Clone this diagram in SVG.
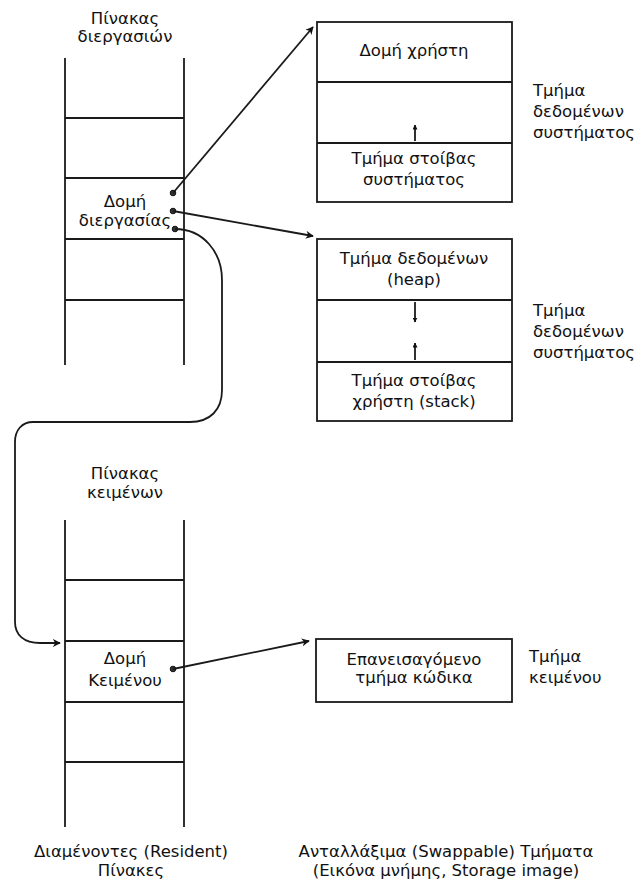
<svg xmlns="http://www.w3.org/2000/svg" width="644" height="891" viewBox="0 0 644 891">
<style>
.ln{stroke:#1a1a1a;stroke-width:1.8;fill:none}
.bx{stroke:#1a1a1a;stroke-width:1.8;fill:#fff}
.t{font-family:"DejaVu Sans",Verdana,sans-serif;font-size:16.5px;fill:#111;text-anchor:middle}
.l{font-family:"DejaVu Sans",Verdana,sans-serif;font-size:16.5px;fill:#111;text-anchor:start}
.dot{fill:#333;stroke:#111;stroke-width:1}
</style>
<defs>
<marker id="ah" viewBox="0 0 10 10" refX="9" refY="5" markerWidth="8" markerHeight="8" orient="auto-start-reverse" markerUnits="userSpaceOnUse">
<path d="M0,0 L10,5 L0,10 L3,5 z" fill="#111"/>
</marker>
<marker id="sa" viewBox="0 0 10 10" refX="9" refY="5" markerWidth="5" markerHeight="5" orient="auto" markerUnits="userSpaceOnUse">
<path d="M0,0 L10,5 L0,10 z" fill="#111"/>
</marker>
</defs>
<rect width="644" height="891" fill="#fff"/>

<g id="process-table">
<text class="t" x="125" y="24">Πίνακας</text>
<text class="t" x="125" y="42">διεργασιών</text>
<line class="ln" x1="65" y1="58" x2="65" y2="365"/>
<line class="ln" x1="184" y1="58" x2="184" y2="365"/>
<line class="ln" x1="65" y1="118" x2="184" y2="118"/>
<line class="ln" x1="65" y1="178" x2="184" y2="178"/>
<line class="ln" x1="65" y1="239" x2="184" y2="239"/>
<line class="ln" x1="65" y1="300" x2="184" y2="300"/>
<text class="t" x="125" y="207">Δομή</text>
<text class="t" x="125" y="226">διεργασίας</text>
<circle class="dot" cx="173" cy="193" r="2.8"/>
<circle class="dot" cx="173" cy="211" r="2.8"/>
<circle class="dot" cx="175" cy="229" r="2.8"/>
</g>

<g id="text-table">
<text class="t" x="125" y="479">Πίνακας</text>
<text class="t" x="125" y="498">κειμένων</text>
<line class="ln" x1="65" y1="520" x2="65" y2="827"/>
<line class="ln" x1="184" y1="520" x2="184" y2="827"/>
<line class="ln" x1="65" y1="580" x2="184" y2="580"/>
<line class="ln" x1="65" y1="641" x2="184" y2="641"/>
<line class="ln" x1="65" y1="702" x2="184" y2="702"/>
<line class="ln" x1="65" y1="762" x2="184" y2="762"/>
<text class="t" x="125" y="664">Δομή</text>
<text class="t" x="125" y="686">Κειμένου</text>
<circle class="dot" cx="173" cy="669" r="2.8"/>
</g>

<g id="system-data-segment">
<rect class="bx" x="317" y="22" width="195" height="180"/>
<line class="ln" x1="317" y1="82" x2="512" y2="82"/>
<line class="ln" x1="317" y1="143" x2="512" y2="143"/>
<text class="t" x="414" y="56">Δομή χρήστη</text>
<line class="ln" x1="415" y1="141" x2="415" y2="125" marker-end="url(#sa)"/>
<text class="t" x="414" y="164">Τμήμα στοίβας</text>
<text class="t" x="414" y="185">συστήματος</text>
</g>

<g id="user-data-segment">
<rect class="bx" x="317" y="239" width="195" height="182"/>
<line class="ln" x1="317" y1="300" x2="512" y2="300"/>
<line class="ln" x1="317" y1="362" x2="512" y2="362"/>
<text class="t" x="414" y="264">Τμήμα δεδομένων</text>
<text class="t" x="414" y="285">(heap)</text>
<line class="ln" x1="415" y1="302" x2="415" y2="322" marker-end="url(#sa)"/>
<line class="ln" x1="415" y1="360" x2="415" y2="343" marker-end="url(#sa)"/>
<text class="t" x="414" y="386">Τμήμα στοίβας</text>
<text class="t" x="414" y="407">χρήστη (stack)</text>
</g>

<g id="text-segment">
<rect class="bx" x="316" y="639" width="196" height="63"/>
<text class="t" x="414" y="665">Επανεισαγόμενο</text>
<text class="t" x="414" y="683">τμήμα κώδικα</text>
</g>

<g id="side-labels">
<text class="l" x="533" y="96">Τμήμα</text>
<text class="l" x="533" y="117">δεδομένων</text>
<text class="l" x="533" y="138">συστήματος</text>
<text class="l" x="533" y="316">Τμήμα</text>
<text class="l" x="533" y="337">δεδομένων</text>
<text class="l" x="533" y="358">συστήματος</text>
<text class="l" x="529" y="662">Τμήμα</text>
<text class="l" x="529" y="683">κειμένου</text>
</g>

<g id="captions">
<text class="t" x="131" y="857">Διαμένοντες (Resident)</text>
<text class="t" x="131" y="876">Πίνακες</text>
<text class="t" x="446" y="857">Ανταλλάξιμα (Swappable) Τμήματα</text>
<text class="t" x="446" y="876">(Εικόνα μνήμης, Storage image)</text>
</g>

<g id="connectors">
<line class="ln" x1="173" y1="193" x2="313" y2="27" marker-end="url(#ah)"/>
<line class="ln" x1="173" y1="211" x2="313" y2="236" marker-end="url(#ah)"/>
<path class="ln" d="M175,229 C203,229 222,252 222,280 L222,390 C222,410 210,422 190,422 L33,422 C22,422 15,430 15,442 L15,622 C15,635 24,643 40,643 L60,643" marker-end="url(#ah)"/>
<line class="ln" x1="173" y1="669" x2="309" y2="641" marker-end="url(#ah)"/>
</g>
</svg>
